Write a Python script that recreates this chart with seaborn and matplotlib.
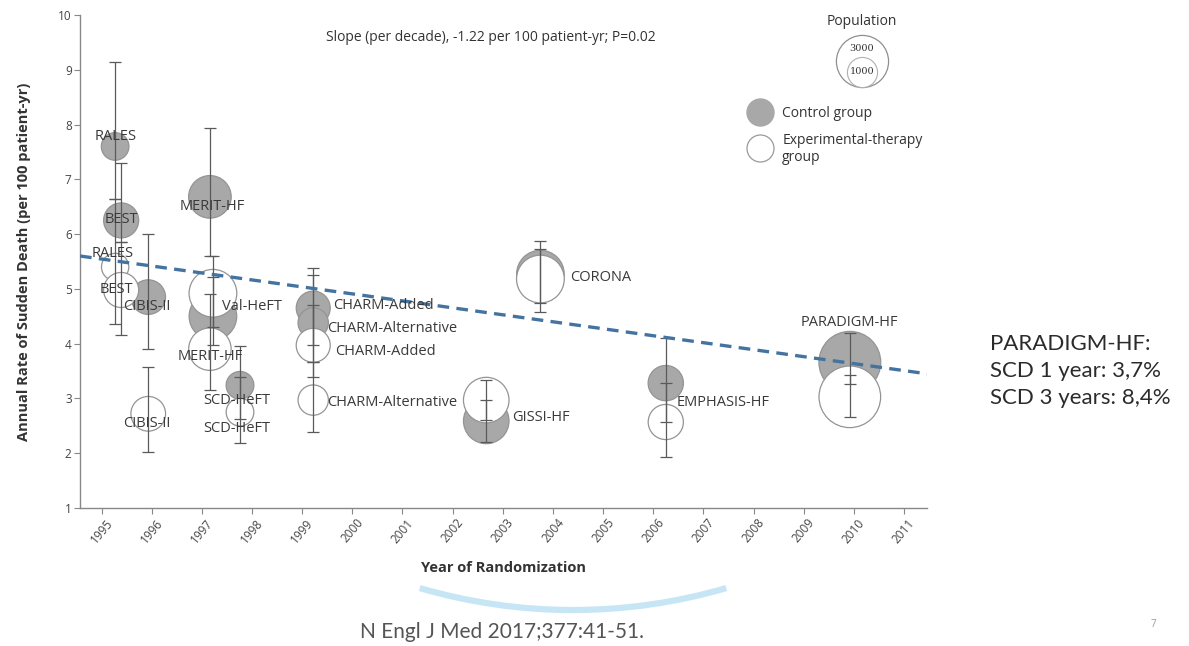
import matplotlib
matplotlib.use("Agg")
import matplotlib.pyplot as plt
from matplotlib.patches import Arc
import pandas as pd
import seaborn as sns

# trials, one control + one experimental-therapy bubble each
trials = ["RALES", "BEST", "CIBIS-II", "MERIT-HF", "Val-HeFT", "SCD-HeFT",
          "CHARM-Added", "CHARM-Alternative", "GISSI-HF", "CORONA",
          "EMPHASIS-HF", "PARADIGM-HF"]
years = [1995.27, 1995.39, 1995.93, 1997.16, 1997.22, 1997.76,
         1999.22, 1999.22, 2002.67, 2003.75, 2006.25, 2009.92]

control_rate = [7.6, 6.25, 4.85, 6.68, 4.5, 3.24, 4.65, 4.38, 2.59, 5.27, 3.28, 3.66]
control_lo = [6.65, 5.85, 3.9, 5.6, 3.97, 2.62, 3.97, 3.66, 2.2, 4.75, 2.57, 3.26]
control_hi = [9.15, 7.3, 6.0, 7.93, 5.22, 3.95, 5.38, 5.25, 2.97, 5.87, 4.1, 4.19]
control_n = [841, 1354, 1320, 2001, 2499, 847, 1272, 1015, 2285, 2497, 1373, 4212]

exp_rate = [5.4, 4.98, 2.72, 3.9, 4.92, 2.75, 3.97, 2.97, 2.97, 5.18, 2.57, 3.03]
exp_lo = [4.35, 4.16, 2.03, 3.15, 4.3, 2.19, 3.4, 2.38, 2.6, 4.58, 1.93, 2.66]
exp_hi = [6.65, 5.85, 3.57, 4.9, 5.6, 3.4, 4.7, 3.66, 3.34, 5.73, 3.28, 3.43]
exp_n = [822, 1354, 1327, 1990, 2511, 845, 1276, 1013, 2289, 2514, 1364, 4187]

# fitted slope line (end points)
trend_years = [1994.57, 2011.46]
trend_rate = [5.6, 3.45]

tick_years = list(range(1995, 2012))
legend_pops = [3000, 1000]

sns.set_theme(style="ticks")
plt.rcParams["font.family"] = ["Open Sans", "DejaVu Sans"]

df = pd.concat([
    pd.DataFrame({"trial": trials, "year": years, "rate": control_rate,
                  "lo": control_lo, "hi": control_hi, "n": control_n,
                  "group": "Control group"}),
    pd.DataFrame({"trial": trials, "year": years, "rate": exp_rate,
                  "lo": exp_lo, "hi": exp_hi, "n": exp_n,
                  "group": "Experimental-therapy group"}),
], ignore_index=True)

fig = plt.figure(figsize=(11.89, 6.46), dpi=100)
ax = fig.add_axes([0.0673, 0.2136, 0.7124, 0.7632])

k = 0.47  # marker area per patient
nmin, nmax = df["n"].min(), df["n"].max()
sns.scatterplot(data=df, x="year", y="rate", hue="group", size="n",
                palette={"Control group": "#a8a8a8",
                         "Experimental-therapy group": "white"},
                sizes=(k * nmin, k * nmax), size_norm=(nmin, nmax),
                edgecolor="#949494", linewidth=0.9, alpha=1,
                legend=False, ax=ax, zorder=2)

ax.errorbar(df["year"], df["rate"],
            yerr=[df["rate"] - df["lo"], df["hi"] - df["rate"]],
            fmt="none", ecolor="#5a5a5a", elinewidth=0.9,
            capsize=4.5, capthick=0.9, zorder=3)

sns.lineplot(x=trend_years, y=trend_rate, ax=ax, color="#44739f",
             linewidth=2.4, linestyle=(0, (3.5, 2.2)), zorder=4)

# trial labels (layout only)
labels = [
    ("RALES", 1995.27, 7.79, "center"),
    ("BEST", 1995.40, 6.26, "center"),
    ("RALES", 1995.23, 5.65, "center"),
    ("BEST", 1995.30, 4.98, "center"),
    ("CIBIS-II", 1995.90, 4.67, "center"),
    ("MERIT-HF", 1997.20, 6.50, "center"),
    ("Val-HeFT", 1998.00, 4.67, "center"),
    ("MERIT-HF", 1997.16, 3.76, "center"),
    ("CIBIS-II", 1995.90, 2.55, "center"),
    ("SCD-HeFT", 1997.70, 2.97, "center"),
    ("SCD-HeFT", 1997.70, 2.46, "center"),
    ("CHARM-Added", 1999.62, 4.70, "left"),
    ("CHARM-Alternative", 1999.49, 4.28, "left"),
    ("CHARM-Added", 1999.65, 3.85, "left"),
    ("CHARM-Alternative", 1999.49, 2.93, "left"),
    ("GISSI-HF", 2003.18, 2.66, "left"),
    ("CORONA", 2004.34, 5.20, "left"),
    ("EMPHASIS-HF", 2006.47, 2.92, "left"),
    ("PARADIGM-HF", 2009.92, 4.38, "center"),
]
for txt, x, y, ha in labels:
    ax.text(x, y, txt, ha=ha, va="center", fontsize=10.5, color="#3a3a3a", zorder=5)

ax.set_xlim(1994.57, 2011.46)
ax.set_ylim(1, 10)
ax.set_xticks(tick_years)
ax.set_xticklabels([str(t) for t in tick_years], rotation=50)
ax.set_yticks(range(1, 11))
ax.tick_params(axis="both", length=4, width=0.8, color="#888888",
               labelcolor="#444444", labelsize=8.5, pad=2)
sns.despine(ax=ax)
for sp in ["left", "bottom"]:
    ax.spines[sp].set_color("#888888")
    ax.spines[sp].set_linewidth(1)

ax.set_xlabel("Year of Randomization", fontsize=10.5, fontweight="bold", color="#333333")
ax.set_ylabel("Annual Rate of Sudden Death (per 100 patient-yr)", fontsize=10.5,
              fontweight="bold", color="#333333")
ax.xaxis.set_label_coords(0.4994, -0.108)
ax.yaxis.set_label_coords(-0.058, 0.5)

ax.text(0.485, 0.955, "Slope (per decade), -1.22 per 100 patient-yr; P=0.02",
        transform=ax.transAxes, ha="center", va="center", fontsize=10, color="#333333")

# legend: population and groups
ax.text(0.923, 0.986, "Population", transform=ax.transAxes, ha="center",
        va="center", fontsize=10, color="#333333")
ax.scatter([0.923], [0.907], s=k * legend_pops[0], facecolor="white",
           edgecolor="#8f8f8f", linewidth=0.9, transform=ax.transAxes, clip_on=False)
ax.scatter([0.923], [0.885], s=k * legend_pops[1], facecolor="white",
           edgecolor="#b0b0b0", linewidth=0.8, transform=ax.transAxes, clip_on=False)
ax.text(0.923, 0.933, str(legend_pops[0]), transform=ax.transAxes, ha="center",
        va="center", fontsize=7, color="#333333", family="DejaVu Serif")
ax.text(0.923, 0.886, str(legend_pops[1]), transform=ax.transAxes, ha="center",
        va="center", fontsize=7, color="#333333", family="DejaVu Serif")

ax.scatter([0.803], [0.803], s=378, facecolor="#a8a8a8", edgecolor="#a8a8a8",
           transform=ax.transAxes, clip_on=False)
ax.scatter([0.803], [0.730], s=378, facecolor="white", edgecolor="#9a9a9a",
           linewidth=0.9, transform=ax.transAxes, clip_on=False)
ax.text(0.829, 0.801, "Control group", transform=ax.transAxes, ha="left",
        va="center", fontsize=10, color="#333333")
ax.text(0.829, 0.728, "Experimental-therapy\ngroup", transform=ax.transAxes,
        ha="left", va="center", fontsize=10, color="#333333", linespacing=1.15)

# slide text
fig.text(0.8327, 0.4257, "PARADIGM-HF:\nSCD 1 year: 3,7%\nSCD 3 years: 8,4%",
         ha="left", va="center", fontsize=16, color="#2b2b2b",
         family=["Lato", "DejaVu Sans"], linespacing=1.45)
fig.text(0.422, 0.0217, "N Engl J Med 2017;377:41-51.", ha="center", va="center",
         fontsize=15, color="#555555", family=["Lato", "DejaVu Sans"])
fig.text(0.97, 0.033, "7", ha="center", va="center", fontsize=7, color="#999999")

# decorative slide swoosh, in inches
fig.add_artist(Arc((5.73, 5.82), 10.92, 10.92, theta1=253.7, theta2=286.3,
                   transform=fig.dpi_scale_trans, color="#c6e6f6", lw=4.5))

fig.savefig("out.png", dpi=100)
